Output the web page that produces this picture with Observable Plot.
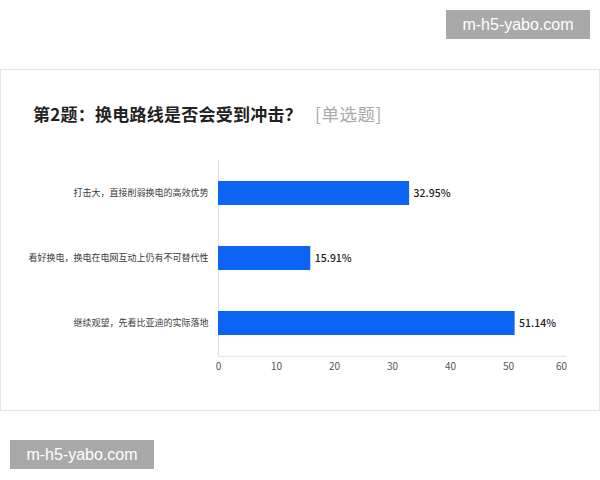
<!DOCTYPE html>
<html>
<head>
<meta charset="utf-8">
<script src="https://cdn.jsdelivr.net/npm/d3@7"></script>
<script src="https://cdn.jsdelivr.net/npm/@observablehq/plot@0.6"></script>
<style>
  html, body { margin: 0; padding: 0; background: #fff; }
  body { width: 600px; height: 480px; position: relative; overflow: hidden;
         font-family: "Noto Sans CJK SC", "Noto Sans", sans-serif; }
  .wm { position: absolute; background: #a9a9a9; color: #fff; width: 144px; height: 29px;
        font-family: "Liberation Sans", Arial, sans-serif; font-size: 16px; line-height: 29px; text-align: center; }
  #card { position: absolute; left: 0; top: 69px; width: 598px; height: 340px; border: 1px solid #e6e6e6; background: #fff; }
  #title { position: absolute; left: 33px; top: 103px; font-size: 17px; line-height: 22px; color: #222; font-weight: bold; white-space: nowrap; letter-spacing: 0.25px; }
  #title span { color: #aaa; font-weight: normal; margin-left: 13px; font-size: 17.5px; letter-spacing: 0.5px; }
  #chart { position: absolute; left: 0; top: 150px; }
</style>
</head>
<body>
<div class="wm" style="left:446px; top:10px;">m-h5-yabo.com</div>
<div id="card"></div>
<div id="title">第2题：换电路线是否会受到冲击？<span>[单选题]</span></div>
<div id="chart"></div>
<div class="wm" style="left:10px; top:440px;">m-h5-yabo.com</div>
<script>
const categories = [
  "打击大，直接削弱换电的高效优势",
  "看好换电，换电在电网互动上仍有不可替代性",
  "继续观望，先看比亚迪的实际落地"
];
const values = [32.95, 15.91, 51.14];
const xTicks = [0, 10, 20, 30, 40, 50];
const xLastTick = [60];

const data = categories.map((c, i) => ({label: c, value: values[i]}));

const chart = Plot.plot({
  width: 600,
  height: 230,
  marginLeft: 218,
  marginRight: 34,
  marginTop: 9.25,
  marginBottom: 24.25,
  style: {fontFamily: "'Noto Sans CJK SC', sans-serif", background: "transparent"},
  x: {domain: [0, 60], label: null},
  y: {domain: categories, paddingInner: 0.634, paddingOuter: 0.317, label: null},
  marks: [
    Plot.axisX({ticks: xTicks, tickSize: 0, tickPadding: 7, fontSize: 10, fill: "#555", label: null}),
    Plot.axisX({ticks: xLastTick, tickSize: 0, tickPadding: 7, fontSize: 10, fill: "#555", label: null, dx: -5}),
    Plot.axisY({tickSize: 0, tickPadding: 10, fontSize: 9, fill: "#3a3a3a", label: null}),
    Plot.frame({anchor: "bottom", stroke: "#e0e0e0"}),
    Plot.ruleX([0], {stroke: "#e0e0e0"}),
    Plot.barX(data, {x: "value", y: "label", fill: "#0d63f3"}),
    Plot.text(data, {x: "value", y: "label", text: d => d.value.toFixed(2) + "%",
      textAnchor: "start", dx: 4, fontSize: 10.5, fill: "#222", fontWeight: 500})
  ]
});
document.getElementById("chart").appendChild(chart);
</script>
</body>
</html>
